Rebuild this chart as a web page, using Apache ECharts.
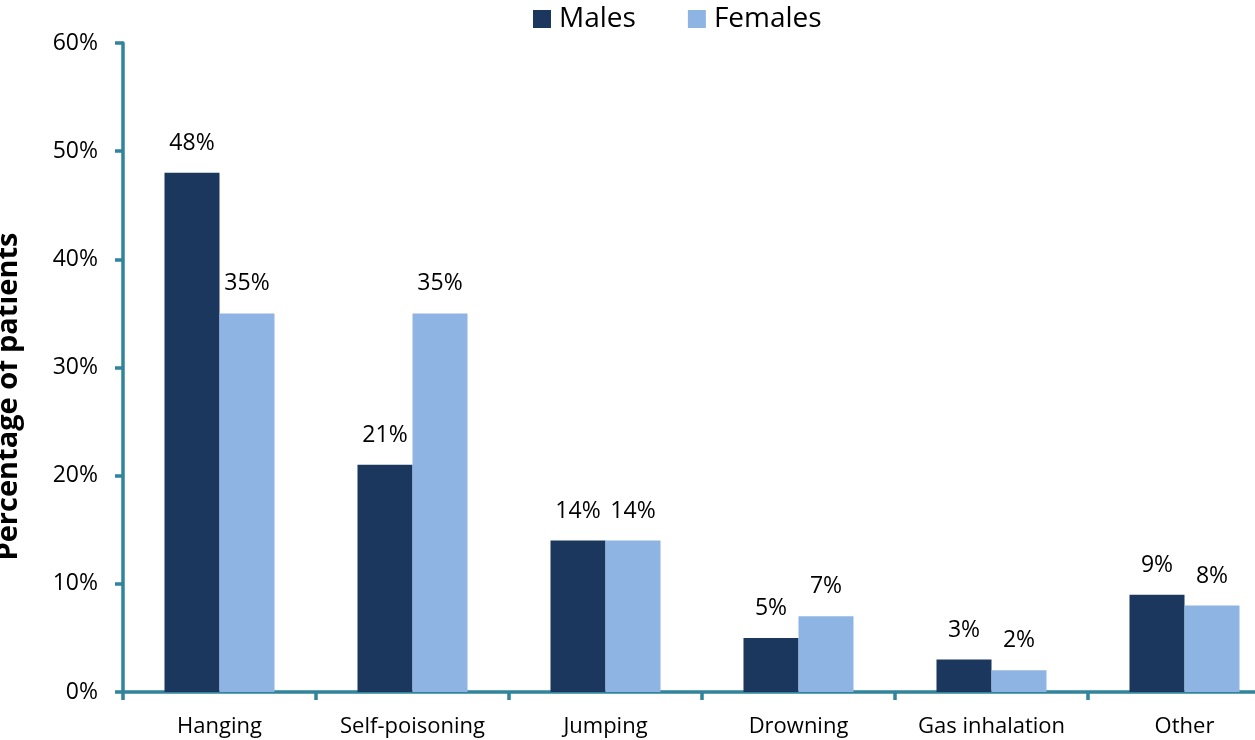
<!DOCTYPE html>
<html>
<head>
<meta charset="utf-8">
<script src="https://cdn.jsdelivr.net/npm/echarts@6/dist/echarts.min.js"></script>
<style>
html, body { margin: 0; padding: 0; background: #fff; }
#chart { width: 1255px; height: 740px; }
</style>
</head>
<body>
<div id="chart"></div>
<script>
// 类别及数据
var categories = ['Hanging', 'Self-poisoning', 'Jumping', 'Drowning', 'Gas inhalation', 'Other'];
var males = [48, 21, 14, 5, 3, 9];
var females = [35, 35, 14, 7, 2, 8];

var axisColor = '#31849b';
var fontFam = '"Open Sans", sans-serif';

var chart = echarts.init(document.getElementById('chart'));

var labelOpt = {
	show: true,
	position: 'top',
	distance: 18,
	formatter: '{c}%',
	fontFamily: fontFam,
	fontSize: 23,
	color: '#000'
};

var option = {
	animation: false,
	legend: {
		data: ['Males', 'Females'],
		top: 0,
		left: 528,
		icon: 'rect',
		itemWidth: 18,
		itemHeight: 18,
		itemGap: 52,
		textStyle: { fontFamily: fontFam, fontSize: 28, color: '#000', padding: [0, 0, 0, 3] }
	},
	grid: {
		top: 43,
		left: 123,
		width: 1158,
		bottom: 48,
		containLabel: false,
		outerBoundsMode: 'none'
	},
	xAxis: {
		type: 'category',
		data: categories,
		axisLine: { lineStyle: { color: axisColor, width: 3.5 } },
		axisTick: { show: true, length: 8, lineStyle: { color: axisColor, width: 3.5 } },
		axisLabel: { fontFamily: fontFam, fontSize: 22, color: '#000', margin: 24 }
	},
	yAxis: {
		type: 'value',
		min: 0,
		max: 60,
		interval: 10,
		name: 'Percentage of patients',
		nameLocation: 'middle',
		nameGap: 100,
		nameTextStyle: { fontFamily: fontFam, fontSize: 29, fontWeight: 'bold', color: '#000', padding: [0, 58, 0, 0] },
		axisLine: { show: true, lineStyle: { color: axisColor, width: 3.5 } },
		axisTick: { show: true, length: 8, lineStyle: { color: axisColor, width: 3.5 } },
		splitLine: { show: false },
		axisLabel: { fontFamily: fontFam, fontSize: 23, color: '#000', margin: 25, formatter: '{value}%' }
	},
	series: [{
		name: 'Males',
		type: 'bar',
		data: males,
		barGap: '0%',
		barCategoryGap: '43%',
		itemStyle: { color: '#1b375e' },
		label: labelOpt
	}, {
		name: 'Females',
		type: 'bar',
		data: females,
		itemStyle: { color: '#8eb4e3' },
		label: labelOpt
	}]
};
chart.setOption(option);
</script>
</body>
</html>
